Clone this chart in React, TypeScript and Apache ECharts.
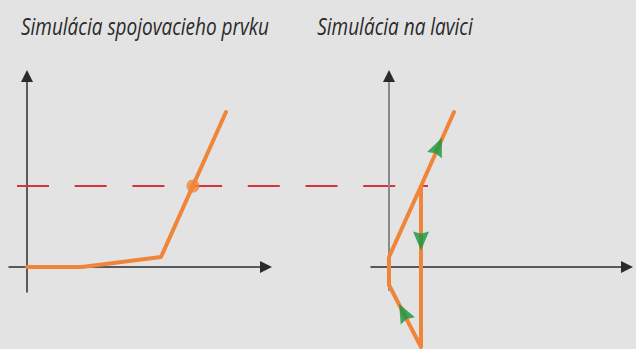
import { useEffect, useRef } from "react";
import * as echarts from "echarts";

// Titles of the two panels
const titles = ["Simulácia spojovacieho prvku", "Simulácia na lavici"];

// Left panel: characteristic of the coupling element
const couplingCurve: [number, number][] = [
  [0, 0],
  [5.5, 0],
  [13.4, 1.0],
  [19.9, 15.5],
];
const operatingPoint: [number, number][] = [[16.6, 8.1]];
// Horizontal reference level (runs across into the right panel), left-panel units
const levelLine: [number, number][] = [
  [-1.0, 8.1],
  [40.1, 8.1],
];

// Right panel: bench simulation loop
const benchPath: [number, number][] = [
  [6.5, 15.5],
  [3.2, 8.1],
  [0, 1.0],
  [0, -1.8],
  [3.2, -8.0],
  [3.2, 8.1],
];
const benchAxisGuide: [number, number][] = [
  [0, -2.3],
  [0, 18.5],
];
const arrowPositions: [number, number][] = [
  [4.92, 12.05],
  [3.2, 2.6],
  [1.45, -4.55],
];
const arrowAngles = [-23, 180, 27];

const ORANGE = "#f0853a";
const RED = "#d8323c";
const GREEN = "#15963e";
const AXIS = "#2b2b2b";
const ARROW_SYMBOL = "path://M7,0 L14,17 L7,15 L0,17 Z";

function axis(extra: any) {
  return {
    type: "value",
    axisLine: {
      show: true,
      onZero: true,
      symbol: ["none", "triangle"],
      symbolSize: [12, 12],
      lineStyle: { color: AXIS, width: 1.5 },
    },
    axisTick: { show: false },
    axisLabel: { show: false },
    splitLine: { show: false },
    ...extra,
  };
}

function hiddenAxis(extra: any) {
  return { type: "value", show: false, ...extra };
}

export default function App() {
  const ref = useRef<HTMLDivElement>(null);
  useEffect(() => {
    if (!ref.current) return;
    const chart = echarts.init(ref.current, null, { renderer: "svg" });
    const titleStyle = {
      font: "italic 23px 'Open Sans'",
      fill: "#2a2a2a",
      textAlign: "center",
      textVerticalAlign: "middle",
    };
    chart.setOption({
      animation: false,
      backgroundColor: "#e3e3e3",
      graphic: [
        {
          type: "text",
          x: 145,
          y: 26,
          scaleX: 0.826,
          style: { text: titles[0], ...titleStyle },
        },
        {
          type: "text",
          x: 395,
          y: 26,
          scaleX: 0.826,
          style: { text: titles[1], ...titleStyle },
        },
      ],
      grid: [
        { left: 9, top: 76, width: 257, height: 216 },
        { left: 371, top: 76, width: 256, height: 214 },
        // full-width overlay sharing the left panel's scale, for the level line
        { left: 0, top: 76, width: 636, height: 216 },
      ],
      xAxis: [
        axis({ gridIndex: 0, min: -1.8, max: 23.9 }),
        axis({ gridIndex: 1, min: -1.8, max: 23.8 }),
        hiddenAxis({ gridIndex: 2, min: -2.7, max: 60.9 }),
      ],
      yAxis: [
        axis({ gridIndex: 0, min: -2.5, max: 19.1 }),
        axis({ gridIndex: 1, min: -2.3, max: 19.1 }),
        hiddenAxis({ gridIndex: 2, min: -2.5, max: 19.1 }),
      ],
      series: [
        {
          type: "line",
          xAxisIndex: 2,
          yAxisIndex: 2,
          data: levelLine,
          symbol: "none",
          lineStyle: { color: RED, width: 2, type: [32, 25.7] },
          z: 2,
        },
        {
          type: "line",
          xAxisIndex: 0,
          yAxisIndex: 0,
          data: couplingCurve,
          symbol: "none",
          lineStyle: { color: ORANGE, width: 4, cap: "round", join: "round" },
          z: 3,
        },
        {
          type: "scatter",
          xAxisIndex: 0,
          yAxisIndex: 0,
          data: operatingPoint,
          symbol: "circle",
          symbolSize: 13,
          itemStyle: { color: ORANGE },
          z: 4,
        },
        {
          type: "line",
          xAxisIndex: 1,
          yAxisIndex: 1,
          data: benchAxisGuide,
          symbol: "none",
          lineStyle: { color: "#8a8a8a", width: 2 },
          z: 2,
        },
        {
          type: "line",
          xAxisIndex: 1,
          yAxisIndex: 1,
          data: benchPath,
          clip: false,
          symbol: "none",
          lineStyle: { color: ORANGE, width: 4, cap: "round", join: "round" },
          z: 3,
        },
        {
          type: "scatter",
          xAxisIndex: 1,
          yAxisIndex: 1,
          data: arrowPositions.map((p, i) => ({
            value: p,
            symbolRotate: arrowAngles[i],
          })),
          clip: false,
          symbol: ARROW_SYMBOL,
          symbolSize: [16, 19],
          itemStyle: { color: GREEN },
          z: 4,
        },
      ],
    });
    return () => chart.dispose();
  }, []);
  return (
    <div
      ref={ref}
      style={{ position: "fixed", left: 0, top: 0, width: 636, height: 349 }}
    />
  );
}
